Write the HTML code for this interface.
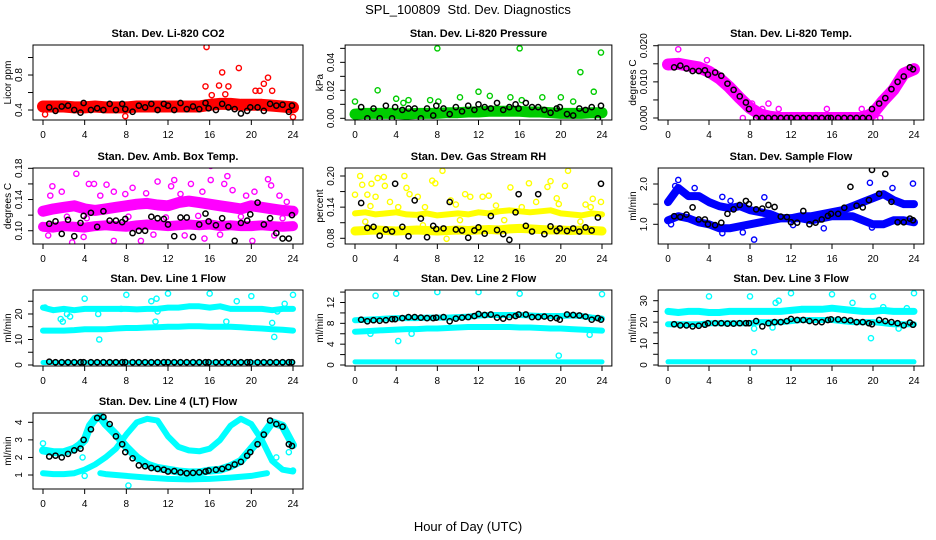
<!DOCTYPE html>
<html><head><meta charset="utf-8">
<style>
html,body{margin:0;padding:0;background:#fff;}
svg{display:block;font-family:"Liberation Sans",sans-serif;}
</style></head>
<body>
<svg id="chart" width="936" height="540" viewBox="0 0 936 540">
<text x="468" y="14" text-anchor="middle" font-size="13">SPL_100809&#160; Std. Dev. Diagnostics</text>
<text x="468" y="531" text-anchor="middle" font-size="13">Hour of Day (UTC)</text>
</svg>
<script>
// ---- shared data ----
const bandHours=[0,1,2,3,4,5,6,7,8,9,10,11,12,13,14,15,16,17,18,19,20,21,22,23,24];
const blackHours=[0.6,1.2,1.8,2.4,3.0,3.6,3.9,4.6,5.2,5.8,6.4,7.0,7.6,7.9,8.6,9.2,9.8,10.4,11.0,11.6,12.0,12.6,13.2,13.8,14.4,15.0,15.6,15.9,16.6,17.2,17.8,18.4,19.0,19.6,19.9,20.6,21.2,21.8,22.4,23.0,23.6,23.9];
const xTicks=[0,4,8,12,16,20,24];
// P1 CO2
const co2Band=[0.44,0.44,0.44,0.43,0.43,0.44,0.43,0.43,0.43,0.44,0.44,0.44,0.44,0.44,0.44,0.44,0.46,0.47,0.47,0.46,0.46,0.46,0.45,0.44,0.43];
const co2Pts=[[15.7,1.12],[15.6,0.67],[16.9,0.68],[17.2,0.83],[17.8,0.67],[18.8,0.88],[20.4,0.62],[20.8,0.62],[21.2,0.70],[21.6,0.77],[22,0.62],[16.2,0.57],[24,0.32],[7.9,0.33],[17.5,0.58],[0.2,0.35]];
const co2Black=[0.43,0.39,0.44,0.45,0.40,0.37,0.48,0.40,0.42,0.40,0.47,0.40,0.47,0.41,0.38,0.45,0.43,0.47,0.40,0.47,0.45,0.40,0.48,0.41,0.44,0.41,0.48,0.42,0.40,0.47,0.43,0.41,0.36,0.39,0.43,0.43,0.39,0.47,0.45,0.46,0.38,0.45];
// P2 pressure
const presBand=[0.003,0.0035,0.0035,0.0035,0.0035,0.003,0.0035,0.0035,0.0035,0.004,0.004,0.0045,0.0045,0.005,0.005,0.005,0.005,0.0045,0.0045,0.004,0.0035,0.0035,0.0035,0.004,0.004];
const presPts=[[0,0.012],[2.2,0.020],[4,0.014],[4.7,0.011],[5.2,0.013],[7.3,0.013],[8,0.050],[8.1,0.012],[10.2,0.015],[12,0.019],[13.1,0.016],[15.1,0.015],[16,0.050],[16.2,0.013],[18.2,0.015],[20,0.015],[21.2,0.012],[21.9,0.033],[23.2,0.019],[23.9,0.047]];
const presBlack=[0.008,0,0.007,0,0.009,0,0.008,0.006,0.007,0.007,0,0.007,0.002,0.009,0.007,0.003,0.008,0.005,0.009,0.006,0.010,0.008,0.007,0.011,0.006,0.008,0.010,0.007,0.011,0.008,0.008,0.006,0.004,0.007,0.008,0.003,0.002,0.007,0.006,0.008,0,0.009];
// P3 Li-820 temp
const tempBand=[0.0148,0.015,0.0145,0.014,0.0128,0.011,0.0085,0.0055,0.0028,0.001,0.0003,0,0,0,0,0,0,0,0,0,0.0013,0.0048,0.0078,0.0123,0.0135];
const tempPts=[[10.8,0.0025],[15.5,0.0025],[18.9,0.0025],[9.8,0.004],[7.3,0],[20.7,0],[1,0.019],[3.8,0.016],[9.2,0.0025],[8.2,0.004]];
const tempBlack=[0.0140,0.0145,0.0137,0.0130,0.0130,0.0132,0.0120,0.0126,0.0117,0.0095,0.0078,0.0060,0.0043,0.0025,0,0,0,0,0,0,0,0,0,0,0,0,0,0,0,0,0,0,0,0,0.0025,0.0040,0.0055,0.0080,0.0100,0.0115,0.0140,0.0135];
// P4 amb box temp
const ambBandA=[0.105,0.104,0.106,0.105,0.104,0.106,0.107,0.106,0.105,0.107,0.108,0.107,0.106,0.107,0.108,0.107,0.108,0.106,0.107,0.106,0.106,0.107,0.106,0.105,0.106];
const ambBandB=[0.125,0.128,0.130,0.132,0.128,0.126,0.128,0.130,0.132,0.134,0.135,0.133,0.132,0.136,0.138,0.136,0.134,0.132,0.130,0.128,0.132,0.130,0.128,0.126,0.125];
const ambPts=[[0.7,0.145],[0.9,0.157],[3.2,0.173],[4.4,0.160],[4.9,0.160],[6.1,0.159],[6.8,0.150],[8.6,0.155],[11,0.163],[11.4,0.078],[12.3,0.157],[12.6,0.165],[14.2,0.160],[16.1,0.183],[16.1,0.165],[17.7,0.170],[17.4,0.160],[18.2,0.152],[21.6,0.166],[21.9,0.158],[2.8,0.085],[6.8,0.087],[9.4,0.087],[15.5,0.090],[20.1,0.087],[1.8,0.150],[19.5,0.145],[22.7,0.145],[23.4,0.137],[5.5,0.145],[9.9,0.148],[13.2,0.147],[15.3,0.150],[20.3,0.150],[0.5,0.094],[3.9,0.092],[7.9,0.147],[10.6,0.095],[13.6,0.094],[17,0.095],[22.2,0.094],[2.3,0.118],[4.2,0.116],[8.2,0.118],[11.8,0.117],[14.9,0.119],[19,0.118],[23,0.116]];
const ambBlack=[0.109,0.112,0.096,0.114,0.093,0.110,0.119,0.123,0.105,0.125,0.113,0.113,0.111,0.115,0.097,0.100,0.100,0.118,0.116,0.115,0.108,0.093,0.117,0.117,0.092,0.108,0.122,0.112,0.107,0.116,0.106,0.087,0.110,0.113,0.121,0.136,0.108,0.116,0.097,0.090,0.090,0.120];
// P5 gas stream RH
const rhBandA=[0.094,0.095,0.096,0.095,0.094,0.095,0.096,0.095,0.094,0.095,0.096,0.095,0.096,0.097,0.096,0.098,0.099,0.098,0.097,0.096,0.096,0.095,0.096,0.095,0.094];
const rhBandB=[0.128,0.130,0.126,0.128,0.130,0.126,0.125,0.128,0.124,0.126,0.128,0.126,0.130,0.128,0.132,0.134,0.132,0.130,0.132,0.134,0.128,0.126,0.124,0.128,0.126];
const rhPts=[[0.5,0.200],[0.7,0.183],[0,0.164],[1.2,0.164],[1.6,0.185],[2.2,0.196],[2.8,0.198],[2.9,0.181],[2,0.160],[4.8,0.200],[5,0.177],[5.3,0.165],[6.1,0.160],[7.5,0.191],[7.8,0.186],[8.5,0.210],[9.3,0.153],[10.7,0.165],[11.2,0.160],[12.4,0.160],[13,0.162],[15.1,0.178],[16.9,0.186],[18.7,0.179],[19,0.190],[19.6,0.157],[20.4,0.181],[20.7,0.210],[23.1,0.156],[23.9,0.150],[1,0.112],[3.4,0.150],[6.6,0.105],[8.9,0.079],[10.2,0.115],[14.5,0.115],[17.6,0.150],[21.9,0.112],[22.4,0.145],[4.2,0.140],[1.5,0.142],[6.8,0.140],[9.8,0.145],[13.7,0.143],[16.2,0.140],[19.8,0.146],[22.9,0.140]];
const rhBlack=[0.148,0.100,0.102,0.085,0.097,0.093,0.185,0.102,0.084,0.153,0.118,0.082,0.104,0.098,0.099,0.150,0.097,0.095,0.081,0.095,0.101,0.089,0.123,0.096,0.088,0.077,0.130,0.165,0.104,0.093,0.165,0.088,0.103,0.094,0.099,0.094,0.099,0.093,0.101,0.095,0.120,0.185];
// P6 sample flow
const sfBandA=[1.55,1.9,1.7,1.7,1.55,1.45,1.4,1.45,1.35,1.3,1.25,1.15,1.15,1.2,1.2,1.25,1.3,1.35,1.45,1.55,1.65,1.75,1.6,1.5,1.5];
const sfBandB=[1.1,1.2,1.15,1.05,1.0,0.9,0.9,0.95,1.0,1.05,1.1,1.15,1.15,1.15,1.1,1.15,1.2,1.2,1.2,1.1,1.0,1.0,1.1,1.1,1.05];
const sfPts=[[1,2.1],[0.7,1.95],[2.6,1.9],[5.3,1.68],[5.3,0.78],[6.1,1.58],[8.4,0.62],[9.4,1.67],[12.2,0.98],[19.7,2.03],[21.9,1.9],[23.9,2.01],[7.3,0.8],[15.2,0.9],[19.9,0.92],[0.3,1.0]];
const sfBlack=[1.2,1.18,1.24,1.42,1.12,1.12,1.0,0.98,1.04,1.26,1.37,1.48,1.58,1.50,1.37,1.39,1.48,1.43,1.19,1.18,1.05,1.04,1.33,1.00,1.04,1.12,1.21,1.26,1.26,1.41,1.93,1.46,1.42,1.60,2.35,1.76,2.25,1.56,1.05,1.05,1.14,1.10];
// P7 line 1 flow
const l1Up=[22.5,21.5,22,21.5,22,22,22,22,22,21.8,22,22,22.5,22.5,23,23,22.5,23,22,22,22,22,21.5,22,22];
const l1Mid=[13.5,13.5,13.5,13.7,14,14,14,14.3,14.5,14.5,14.7,14.8,15,15,15.2,15.2,15,15,15,14.8,14.5,14.3,14,13.8,13.5];
const l1Low=[1,1,1,1,1,1,1,1,1,1,1,1,1,1,1,1,1,1,1,1,1,1,1,1,1];
const l1Pts=[[0.2,22.5],[1.7,18],[1.9,17],[2.3,20],[2.6,19],[4,26],[5.3,20],[5.4,10],[7.5,22],[8,27.5],[10.4,25],[10.9,26],[11,21],[10.8,17],[12,28],[16,28],[17.6,17],[18.6,25],[20,27],[22,16.5],[22.2,11],[22.5,21],[23.2,24],[24,27.5]];
const l1Black=[1.3,1.1,1.1,1.1,1.1,1.1,1.1,1.1,1.1,1.1,1.1,1.1,1.1,1.1,1.1,1.1,1.1,1.1,1.1,1.1,1.1,1.1,1.1,1.1,1.1,1.1,1.1,1.1,1.1,1.1,1.1,1.1,1.1,1.1,1.1,1.1,1.1,1.1,1.1,1.1,1.1,1.1];
// P8 line 2 flow
const l2Up=[8.6,8.7,8.8,8.9,9.0,9.0,9.0,9.1,9.1,9.1,9.2,9.3,9.5,9.6,9.6,9.6,9.6,9.5,9.4,9.4,9.4,9.5,9.4,9.1,8.9];
const l2Mid=[6.4,6.5,6.6,6.7,6.8,6.9,6.9,7.0,7.0,7.1,7.2,7.3,7.3,7.3,7.3,7.3,7.2,7.2,7.1,7.0,7.0,6.9,6.8,6.7,6.6];
const l2Low=[0.6,0.6,0.6,0.6,0.6,0.6,0.6,0.6,0.6,0.6,0.6,0.6,0.6,0.6,0.6,0.6,0.6,0.6,0.6,0.6,0.6,0.6,0.6,0.6,0.6];
const l2Pts=[[2,13.3],[4,13.7],[4.2,4.6],[8,14],[12,14],[16,13.7],[19.8,1.8],[22.8,5.8],[24,13.6],[1.5,6.0],[5.5,6.0]];
const l2Black=[8.7,8.4,8.6,8.5,8.6,8.8,8.8,9.0,9.2,9.2,9.1,9.0,9.0,9.1,9.2,8.4,8.9,9.1,9.2,9.4,9.8,9.6,9.7,9.1,8.9,9.2,9.4,9.7,9.7,9.2,9.2,9.3,9.0,9.0,8.7,9.7,9.6,9.5,9.3,8.7,9.0,8.7];
// P9 line 3 flow
const l3Up=[25,24.5,25,25,24.5,24.5,25,25,25,25,25,25,25.5,26,26,26,26.5,26,25.5,25,25,25.5,25,25,25];
const l3Mid=[19,19,19,19,19.5,19.5,19.5,19.5,19.5,20,20,20,20.5,21,21,21,21,20.5,20,20,20,19.5,19,19,19];
const l3Low=[1.5,1.5,1.5,1.5,1.5,1.5,1.5,1.5,1.5,1.5,1.5,1.5,1.5,1.5,1.5,1.5,1.5,1.5,1.5,1.5,1.5,1.5,1.5,1.5,1.5];
const l3Pts=[[4,32],[8,32],[8.4,17],[8.4,6],[10.5,29],[10.8,30],[10.2,17.5],[12,33.5],[16,33],[18,29],[19.8,12.5],[20,32],[21,27],[22.5,17],[23.3,26.5],[24,33.5]];
const l3Black=[19,18.5,18.5,18,18.3,18.8,19.5,19.5,19.5,19.3,19.3,19.5,19.5,19.5,20.5,18,19.5,20,20,20.5,21.5,21,21,20.5,20,20,21,21.3,21.3,21,20.8,20,20,19.5,19,21,20.5,20,19.5,18.5,19.8,18.8];
// P10 line 4 flow
const l4aHours=[0,1,2,3,3.5,4,4.5,5,5.5,6,7,8,9,10,11,12,13,14,15,16,17,18,19,20,21,22,23,24];
const l4aVals=[2.4,2.3,2.3,2.5,2.7,3.0,3.8,4.2,4.3,3.9,3.3,2.6,2.0,1.6,1.4,1.3,1.2,1.15,1.15,1.25,1.3,1.5,1.8,2.5,3.2,4.0,3.8,2.7];
const l4bHours=[0,1,2,3,4,5,6,7,8,9,10,11,12,13,14,15,16,17,18,19,20,21,22,23,24];
const l4bVals=[1.1,1.05,1.05,1.1,1.3,1.6,2.0,2.5,3.3,4.0,4.2,4.1,3.2,2.6,2.4,2.35,2.5,3.0,3.8,4.2,3.9,3.0,1.8,1.3,1.2];
const l4cHours=[5.5,6,8,10,12,14,16,18,20,21.5];
const l4cVals=[1.1,1.05,0.95,0.85,0.78,0.75,0.78,0.85,0.95,1.1];
const l4Pts=[[8.2,0.4],[4,0.95],[0,2.8],[22.4,2.0],[23.6,2.3],[24,1.25],[3.8,2.0]];
const l4Black=[2.05,2.1,2.0,2.2,2.4,2.5,3.0,3.6,4.25,4.3,3.9,3.2,2.75,2.3,1.95,1.55,1.5,1.4,1.35,1.3,1.2,1.22,1.15,1.1,1.12,1.15,1.2,1.25,1.3,1.35,1.45,1.6,1.75,2.1,2.3,2.75,3.3,4.1,3.9,3.75,2.75,2.65];

// ---- panels (geometry/style) ----
const NS="http://www.w3.org/2000/svg";
const svg=document.getElementById('chart');
const cols=[{x0:43,x24:293},{x0:355,x24:602},{x0:668,x24:914}];
const rows=[{top:45,bot:120},{top:168,bot:244},{top:290,bot:366},{top:413,bot:489}];
const panels=[
 {name:'co2',title:'Stan. Dev. Li-820 CO2',yl:'Licor ppm',c:0,r:0,dom:[0.286,1.143],ticks:[0.4,0.6,0.8,1.0],labs:['0.4','','0.8',''],color:'#ff0000',
  lines:[[bandHours,co2Band,12]],pts:co2Pts,black:co2Black},
 {name:'pressure',title:'Stan. Dev. Li-820 Pressure',yl:'kPa',c:1,r:0,dom:[-0.0012,0.0524],ticks:[0,0.01,0.02,0.03,0.04,0.05],labs:['0.00','','0.02','','0.04',''],color:'#00cc00',
  lines:[[bandHours,presBand,11]],pts:presPts,black:presBlack},
 {name:'li820-temp',title:'Stan. Dev. Li-820 Temp.',yl:'degrees C',c:2,r:0,dom:[-0.00055,0.0202],ticks:[0,0.005,0.01,0.015,0.02],labs:['0.000','','0.010','','0.020'],color:'#ff00ff',
  lines:[[bandHours,tempBand,12]],pts:tempPts,black:tempBlack},
 {name:'amb-box-temp',title:'Stan. Dev. Amb. Box Temp.',yl:'degrees C',c:0,r:1,dom:[0.083,0.1804],ticks:[0.10,0.12,0.14,0.16,0.18],labs:['0.10','','0.14','','0.18'],color:'#ff00ff',
  lines:[[bandHours,ambBandA,10],[bandHours,ambBandB,11]],pts:ambPts,black:ambBlack},
 {name:'gas-stream-rh',title:'Stan. Dev. Gas Stream RH',yl:'percent',c:1,r:1,dom:[0.069,0.2154],ticks:[0.08,0.11,0.14,0.17,0.20],labs:['0.08','','0.14','','0.20'],color:'#ffff00',
  lines:[[bandHours,rhBandA,9],[bandHours,rhBandB,6]],pts:rhPts,black:rhBlack},
 {name:'sample-flow',title:'Stan. Dev. Sample Flow',yl:'ml/min',c:2,r:1,dom:[0.511,2.397],ticks:[1.0,1.5,2.0],labs:['1.0','','2.0'],color:'#0000ff',
  lines:[[bandHours,sfBandA,8],[bandHours,sfBandB,8]],pts:sfPts,black:sfBlack},
 {name:'line1-flow',title:'Stan. Dev. Line 1 Flow',yl:'ml/min',c:0,r:2,dom:[-0.39,29.4],ticks:[0,5,10,15,20,25],labs:['0','','10','','20',''],color:'#00ffff',
  lines:[[bandHours,l1Up,6],[bandHours,l1Mid,6],[bandHours,l1Low,5]],pts:l1Pts,black:l1Black},
 {name:'line2-flow',title:'Stan. Dev. Line 2 Flow',yl:'ml/min',c:1,r:2,dom:[-0.19,14.4],ticks:[0,2,4,6,8,10,12,14],labs:['0','','4','','8','','12',''],color:'#00ffff',
  lines:[[bandHours,l2Up,6],[bandHours,l2Mid,6],[bandHours,l2Low,5]],pts:l2Pts,black:l2Black},
 {name:'line3-flow',title:'Stan. Dev. Line 3 Flow',yl:'ml/min',c:2,r:2,dom:[-0.47,35.0],ticks:[0,5,10,15,20,25,30],labs:['0','','10','','20','','30'],color:'#00ffff',
  lines:[[bandHours,l3Up,7],[bandHours,l3Mid,6],[bandHours,l3Low,5]],pts:l3Pts,black:l3Black},
 {name:'line4-flow',title:'Stan. Dev. Line 4 (LT) Flow',yl:'ml/min',c:0,r:3,dom:[0.203,4.53],ticks:[1,2,3,4],labs:['1','2','3','4'],color:'#00ffff',
  lines:[[l4aHours,l4aVals,8],[l4bHours,l4bVals,6],[l4cHours,l4cVals,6]],pts:l4Pts,black:l4Black}
];

function mk(tag,attrs,parent){const e=document.createElementNS(NS,tag);for(const k in attrs)e.setAttribute(k,attrs[k]);(parent||svg).appendChild(e);return e;}

panels.forEach(p=>{
  const col=cols[p.c],row=rows[p.r];
  const sx=h=>col.x0+(h/24)*(col.x24-col.x0);
  const sy=v=>row.bot-(v-p.dom[0])/(p.dom[1]-p.dom[0])*(row.bot-row.top);
  const bl=sx(-0.96),br=sx(24.96);
  const g=mk('g',{});
  
  
  const defs=mk('clipPath',{id:'clip-'+p.name},g);
  mk('rect',{x:bl,y:row.top,width:br-bl,height:row.bot-row.top},defs);
  const plot=mk('g',{'clip-path':'url(#clip-'+p.name+')'},g);
  
  
  p.lines.forEach((ln,i)=>{
    const d=ln[0].map((h,j)=>(j?'L':'M')+sx(h).toFixed(1)+' '+sy(ln[1][j]).toFixed(1)).join(' ');
    const path=mk('path',{d:d,fill:'none',stroke:p.color,'stroke-width':ln[2],'stroke-linejoin':'round','stroke-linecap':'round'},plot);
    
    
  });
  p.pts.forEach(pt=>{
    const c=mk('circle',{cx:sx(pt[0]),cy:sy(pt[1]),r:2.6,fill:'none',stroke:p.color,'stroke-width':1.4},plot);
    
    
  });
  p.black.forEach((v,i)=>{
    const c=mk('circle',{cx:sx(blackHours[i]),cy:sy(v),r:2.6,fill:'none',stroke:'#000','stroke-width':1.5},plot);
    
    
  });
  const box=mk('rect',{x:bl,y:row.top,width:br-bl,height:row.bot-row.top,fill:'none',stroke:'#000','stroke-width':1},g);
  
  
  const ax=mk('g',{},g);
  
  
  xTicks.forEach(t=>{
    mk('line',{x1:sx(t),x2:sx(t),y1:row.bot,y2:row.bot+5,stroke:'#000'},ax);
    const tx=mk('text',{x:sx(t),y:row.bot+18,'text-anchor':'middle','font-size':10},ax);
    tx.textContent=t;
  });
  const ay=mk('g',{},g);
  
  
  p.ticks.forEach((t,i)=>{
    const y=sy(t);
    mk('line',{x1:bl,x2:bl-5,y1:y,y2:y,stroke:'#000'},ay);
    if(p.labs[i]){
      const tx=mk('text',{x:bl-11,y:y,'text-anchor':'middle','font-size':10,transform:'rotate(-90 '+(bl-11)+' '+y+')'},ay);
      tx.textContent=p.labs[i];
    }
  });
  const cy=(row.top+row.bot)/2;
  const yl=mk('text',{x:bl-22,y:cy,'text-anchor':'middle','font-size':10,transform:'rotate(-90 '+(bl-22)+' '+cy+')'},g);
  yl.textContent=p.yl;
  
  
  const ti=mk('text',{x:(bl+br)/2,y:row.top-8,'text-anchor':'middle','font-size':11,'font-weight':'bold'},g);
  ti.textContent=p.title;
  
  
});
</script>
</body></html>
